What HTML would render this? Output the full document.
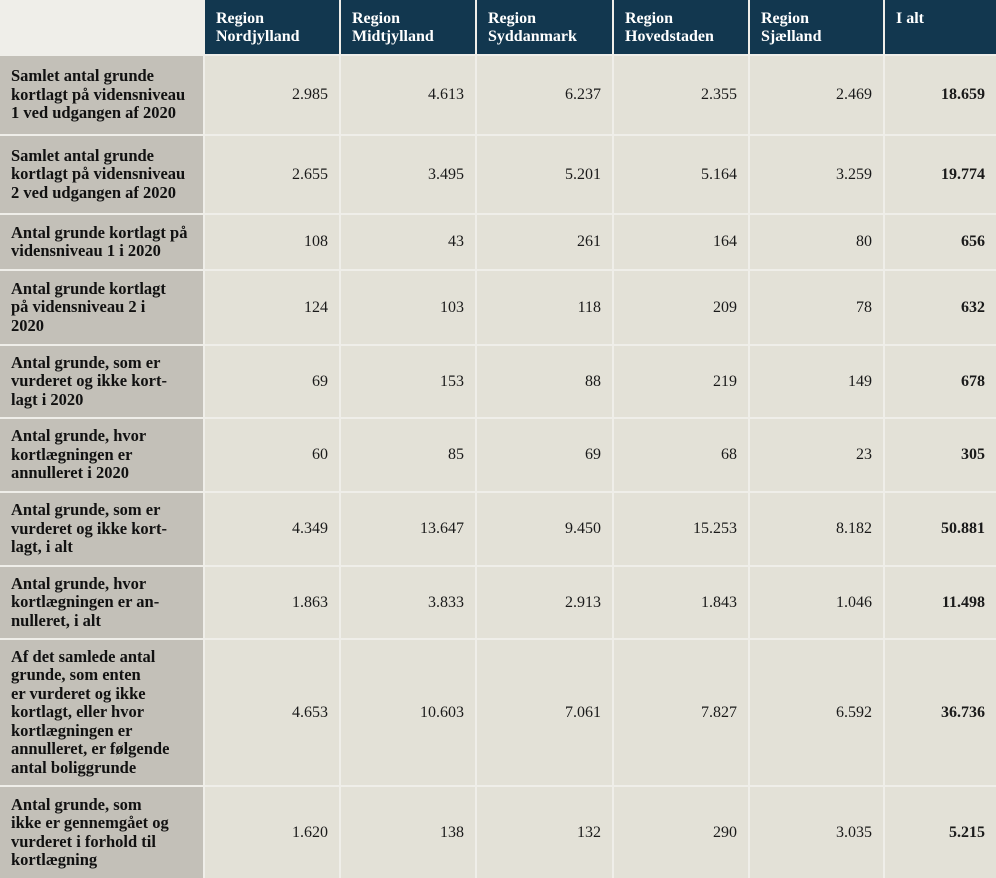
<!DOCTYPE html>
<html><head><meta charset="utf-8"><style>
html,body{margin:0;padding:0;background:#efeee9;}
.g{display:grid;width:996px;height:878px;grid-template-columns:203px 134px 134px 135px 134px 133px 111px;grid-template-rows:54px 78px 77px 54px 73px 71px 72px 72px 71px 145px 91px;gap:2px;background:#efeee9;font-family:"Liberation Serif",serif;}
.g div{box-sizing:border-box;}
.h{background:#12374f;color:#fff;font-weight:bold;font-size:16px;line-height:18px;padding:10px 6px 0 11px;white-space:nowrap;}
.e{background:#efeee9;}
.l{background:#c3c0b8;color:#111;font-weight:bold;font-size:16.5px;line-height:18.5px;padding:0 2px 0 11px;display:flex;align-items:center;white-space:nowrap;}
.n{background:#e3e1d7;color:#1a1a1a;font-size:16px;display:flex;align-items:center;justify-content:flex-end;padding-right:11px;}
.b{font-weight:bold;}
</style></head><body>
<div class="g">
<div class="e"></div><div class="h">Region<br>Nordjylland</div><div class="h">Region<br>Midtjylland</div><div class="h">Region<br>Syddanmark</div><div class="h">Region<br>Hovedstaden</div><div class="h">Region<br>Sjælland</div><div class="h">I alt</div>
<div class="l"><span>Samlet antal grunde<br>kortlagt på vidensniveau<br>1 ved udgangen af 2020</span></div><div class="n">2.985</div><div class="n">4.613</div><div class="n">6.237</div><div class="n">2.355</div><div class="n">2.469</div><div class="n b">18.659</div>
<div class="l"><span>Samlet antal grunde<br>kortlagt på vidensniveau<br>2 ved udgangen af 2020</span></div><div class="n">2.655</div><div class="n">3.495</div><div class="n">5.201</div><div class="n">5.164</div><div class="n">3.259</div><div class="n b">19.774</div>
<div class="l"><span>Antal grunde kortlagt på<br>vidensniveau 1 i 2020</span></div><div class="n">108</div><div class="n">43</div><div class="n">261</div><div class="n">164</div><div class="n">80</div><div class="n b">656</div>
<div class="l"><span>Antal grunde kortlagt<br>på vidensniveau 2 i<br>2020</span></div><div class="n">124</div><div class="n">103</div><div class="n">118</div><div class="n">209</div><div class="n">78</div><div class="n b">632</div>
<div class="l"><span>Antal grunde, som er<br>vurderet og ikke kort-<br>lagt i 2020</span></div><div class="n">69</div><div class="n">153</div><div class="n">88</div><div class="n">219</div><div class="n">149</div><div class="n b">678</div>
<div class="l"><span>Antal grunde, hvor<br>kortlægningen er<br>annulleret i 2020</span></div><div class="n">60</div><div class="n">85</div><div class="n">69</div><div class="n">68</div><div class="n">23</div><div class="n b">305</div>
<div class="l"><span>Antal grunde, som er<br>vurderet og ikke kort-<br>lagt, i alt</span></div><div class="n">4.349</div><div class="n">13.647</div><div class="n">9.450</div><div class="n">15.253</div><div class="n">8.182</div><div class="n b">50.881</div>
<div class="l"><span>Antal grunde, hvor<br>kortlægningen er an-<br>nulleret, i alt</span></div><div class="n">1.863</div><div class="n">3.833</div><div class="n">2.913</div><div class="n">1.843</div><div class="n">1.046</div><div class="n b">11.498</div>
<div class="l"><span>Af det samlede antal<br>grunde, som enten<br>er vurderet og ikke<br>kortlagt, eller hvor<br>kortlægningen er<br>annulleret, er følgende<br>antal boliggrunde</span></div><div class="n">4.653</div><div class="n">10.603</div><div class="n">7.061</div><div class="n">7.827</div><div class="n">6.592</div><div class="n b">36.736</div>
<div class="l"><span>Antal grunde, som<br>ikke er gennemgået og<br>vurderet i forhold til<br>kortlægning</span></div><div class="n">1.620</div><div class="n">138</div><div class="n">132</div><div class="n">290</div><div class="n">3.035</div><div class="n b">5.215</div>
</div>
</body></html>
